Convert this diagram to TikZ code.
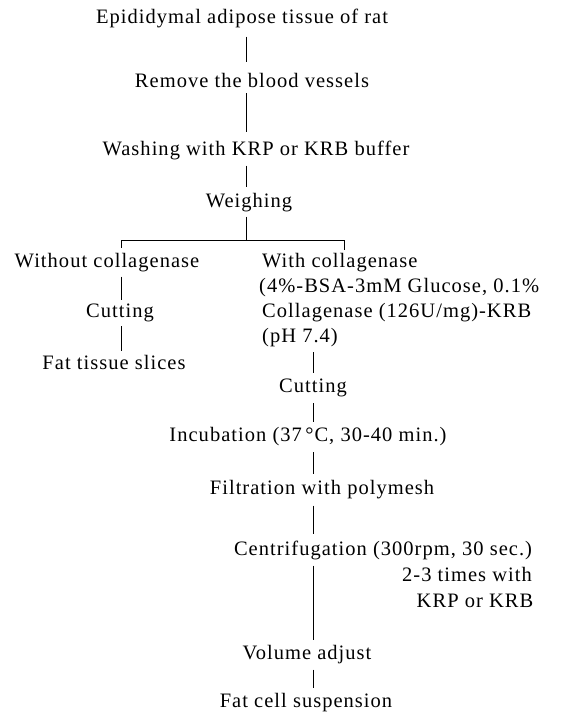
\documentclass[tikz,border=0pt]{standalone}
\usepackage{fontspec}
\setmainfont{Liberation Serif}[LetterSpace=5]
\usetikzlibrary{calc}
\begin{document}
\begin{tikzpicture}[x=1pt,y=-1pt,
  lbl/.style={inner sep=0pt, font=\fontsize{20.5}{24}\selectfont},
  lblL/.style={lbl, anchor=west},
  ln/.style={line width=0.8pt}]
\useasboundingbox (0,0) rectangle (563,714);
% main column
\node[lbl] (t1) at (242,18) {Epididymal adipose tissue of rat};
\node[lbl] (t2) at (252,80) {Remove the blood vessels};
\node[lbl] (t3) at (256,150) {Washing with KRP or KRB buffer};
\node[lbl] (t4) at (249,203) {Weighing};
% left branch
\node[lbl] (w0) at (107,263) {Without collagenase};
\node[lbl] (w1) at (120,313) {Cutting};
\node[lbl] (w2) at (114,362) {Fat tissue slices};
% right branch
\node[lblL] (c0) at (262,263) {With collagenase};
\node[lblL] (c1) at (259,288) {(4\%-BSA-3mM Glucose, 0.1\%};
\node[lblL] (c2) at (262,313) {Collagenase (126U/mg)-KRB};
\node[lblL] (c3) at (262,338) {(pH 7.4)};
\node[lbl] (c4) at (313,388) {Cutting};
\node[lbl] (c5) at (308,437) {Incubation (37\,°C, 30-40 min.)};
\node[lbl] (c6) at (322,490) {Filtration with polymesh};
\node[lbl] (c7) at (383,550) {Centrifugation (300rpm, 30 sec.)};
\node[lbl] (n1) at (467,574) {2-3 times with};
\node[lbl] (n2) at (475,601) {KRP or KRB};
\node[lbl] (c8) at (307,655) {Volume adjust};
\node[lbl] (c9) at (306,703) {Fat cell suspension};
% stems
\coordinate (sx) at (246,0);
\coordinate (lx) at (121,0);
\coordinate (rx) at (344,0);
\coordinate (cx) at (313,0);
\draw[ln] ($(t1.south -| sx)+(0,9)$) -- ($(t2.north -| sx)+(0,-11)$);
\draw[ln] ($(t2.south -| sx)+(0,6)$) -- ($(t3.north -| sx)+(0,-8)$);
\draw[ln] ($(t3.south -| sx)+(0,6)$) -- ($(t4.north -| sx)+(0,-6)$);
\coordinate (bj) at (246,240);
\draw[ln] ($(t4.south -| sx)+(0,4)$) -- (bj);
\draw[ln] (bj -| lx) -- (bj -| rx);
\draw[ln] (bj -| lx) -- ($(w0.north -| lx)+(0,-5)$);
\draw[ln] (bj -| rx) -- ($(c0.north -| rx)+(0,-3)$);
% left column links
\draw[ln] ($(w0.south -| lx)+(0,4)$) -- ($(w1.north -| lx)+(0,-4)$);
\draw[ln] ($(w1.south -| lx)+(0,4)$) -- ($(w2.north -| lx)+(0,-4)$);
% right column links
\draw[ln] ($(c3.south -| cx)+(0,5)$) -- ($(c4.north -| cx)+(0,-6)$);
\draw[ln] ($(c4.south -| cx)+(0,6)$) -- ($(c5.north -| cx)+(0,-6)$);
\draw[ln] ($(c5.south -| cx)+(0,6)$) -- ($(c6.north -| cx)+(0,-6)$);
\draw[ln] ($(c6.south -| cx)+(0,6)$) -- ($(c7.north -| cx)+(0,-6)$);
\draw[ln] ($(c7.south -| cx)+(0,6)$) -- ($(c8.north -| cx)+(0,-6)$);
\draw[ln] ($(c8.south -| cx)+(0,5)$) -- ($(c9.north -| cx)+(0,-6)$);
\end{tikzpicture}
\end{document}
